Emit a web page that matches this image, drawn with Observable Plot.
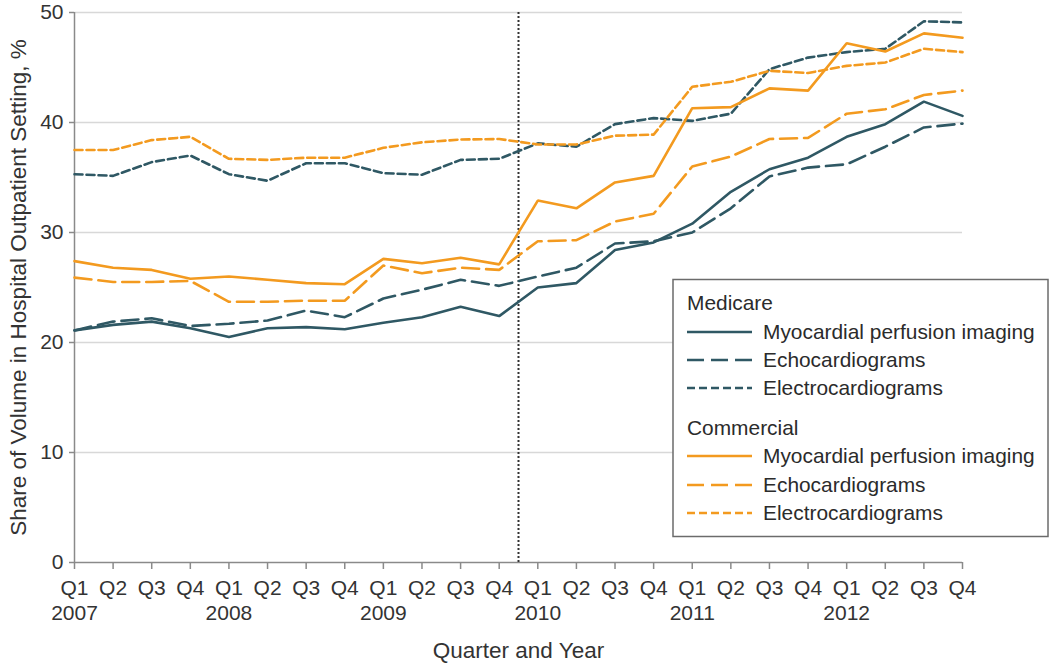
<!DOCTYPE html>
<html><head><meta charset="utf-8">
<script src="https://cdn.jsdelivr.net/npm/d3@7"></script>
<script src="https://cdn.jsdelivr.net/npm/@observablehq/plot@0.6"></script>
<style>
body{margin:0;background:#fff;}
#wrap{position:relative;width:1050px;height:663px;font-family:"Liberation Sans",Arial,sans-serif;}
#legend{position:absolute;left:0;top:0;pointer-events:none;}
</style></head>
<body><div id="wrap"></div>
<script>
const quarterLabels = ["Q1","Q2","Q3","Q4"];
const years = [2007, 2008, 2009, 2010, 2011, 2012];
const medicareMPI  = [21.1,21.6,21.9,21.3,20.5,21.3,21.4,21.2,21.8,22.3,23.25,22.4,25.0,25.4,28.4,29.1,30.8,33.7,35.75,36.8,38.7,39.85,41.9,40.6];
const medicareEcho = [21.1,21.9,22.2,21.5,21.7,22.0,22.9,22.3,24.0,24.8,25.7,25.15,26.0,26.8,29.0,29.2,30.0,32.2,35.1,35.9,36.2,37.8,39.55,39.9];
const medicareECG  = [35.3,35.15,36.4,37.0,35.3,34.7,36.3,36.3,35.4,35.25,36.6,36.7,38.1,37.8,39.85,40.4,40.15,40.8,44.85,45.9,46.4,46.7,49.2,49.1];
const commercialMPI  = [27.4,26.8,26.6,25.8,26.0,25.7,25.4,25.3,27.6,27.2,27.7,27.1,32.9,32.2,34.55,35.15,41.3,41.4,43.1,42.9,47.2,46.45,48.1,47.7];
const commercialEcho = [25.9,25.5,25.5,25.6,23.7,23.7,23.8,23.8,27.0,26.3,26.8,26.6,29.2,29.3,31.0,31.7,36.0,36.9,38.5,38.6,40.8,41.2,42.5,42.9];
const commercialECG  = [37.5,37.5,38.4,38.7,36.7,36.6,36.8,36.8,37.7,38.2,38.45,38.5,38.0,38.0,38.8,38.9,43.25,43.7,44.7,44.5,45.15,45.45,46.7,46.4];
const groupNames = ["Medicare", "Commercial"];
const seriesNames = ["Myocardial perfusion imaging", "Echocardiograms", "Electrocardiograms"];
const policyBreak = 11.5; // between Q4 2009 and Q1 2010

const TEAL = "#2f5864", ORANGE = "#f39a1f";
const dashes = [null, "17,7", "8,4"];
const groups = [
  {name: groupNames[0], color: TEAL, series: [medicareMPI, medicareEcho, medicareECG]},
  {name: groupNames[1], color: ORANGE, series: [commercialMPI, commercialEcho, commercialECG]}
];

const quarterIdx = d3.range(years.length * 4);
const lineMarks = [];
for (const g of groups) {
  g.series.forEach((vals, k) => {
    const data = vals.map((v, i) => ({i, v}));
    lineMarks.push(Plot.line(data, {x: "i", y: "v", stroke: g.color, strokeWidth: 2.6,
      strokeDasharray: dashes[k] ?? undefined, strokeLinejoin: "miter"}));
  });
}

const FONT = '"Liberation Sans", Arial, sans-serif';
const FS_TICK = "21px", FS_TITLE = "22.5px", FS_LEG = "20.9px";
const plot = Plot.plot({
  width: 1050, height: 663,
  marginLeft: 74, marginRight: 88, marginTop: 12, marginBottom: 101,
  style: {fontFamily: FONT, fontSize: FS_TICK, color: "#333", background: "#fff"},
  x: {domain: [0, quarterIdx.length - 1]},
  y: {domain: [0, 50]},
  marks: [
    Plot.gridY([10, 20, 30, 40, 50], {stroke: "#d8d8d8", strokeOpacity: 1, strokeWidth: 1.5}),
    Plot.ruleY([0], {stroke: "#8a8a8a", strokeWidth: 1.5}),
    Plot.ruleX([0], {stroke: "#8a8a8a", strokeWidth: 1.5}),
    Plot.axisY({ticks: [0, 10, 20, 30, 40, 50], tickSize: 5, tickPadding: 6, stroke: "#8a8a8a", strokeWidth: 1.5, label: null, fontSize: FS_TICK, fill: "#333"}),
    Plot.axisX({ticks: quarterIdx, tickSize: 7, tickPadding: 11, stroke: "#8a8a8a", strokeWidth: 1.5,
      tickFormat: i => quarterLabels[i % 4], label: null, fontSize: FS_TICK, fill: "#333"}),
    Plot.axisX({ticks: years.map((y, k) => k * 4), tickSize: 0, tickPadding: 43,
      tickFormat: i => String(years[i / 4]), label: null, fontSize: FS_TICK, fill: "#333"}),
    Plot.ruleX([policyBreak], {stroke: "#333", strokeWidth: 2, strokeDasharray: "2,2"}),
    ...lineMarks,
    Plot.text(["Quarter and Year"], {frameAnchor: "bottom", dy: 88, fontSize: FS_TITLE, fill: "#333", lineAnchor: "middle"}),
    Plot.text(["Share of Volume in Hospital Outpatient Setting, %"], {frameAnchor: "left", dx: -56, rotate: -90, textAnchor: "middle", fontSize: FS_TITLE, fill: "#333", lineAnchor: "middle"})
  ]
});
const wrap = document.getElementById("wrap");
wrap.appendChild(plot);

// legend overlay
const svg = d3.select(wrap).append("svg").attr("id", "legend").attr("width", 1050).attr("height", 663);
svg.append("rect").attr("x", 673).attr("y", 279.5).attr("width", 375).attr("height", 257)
  .attr("fill", "#fff").attr("stroke", "#6b6b6b").attr("stroke-width", 1.5);
const rowsY = [[303, 332, 360, 388], [428, 456, 485, 513]];
groups.forEach((g, gi) => {
  const ys = rowsY[gi];
  svg.append("text").attr("x", 687).attr("y", ys[0]).attr("dy", "0.35em")
    .attr("font-size", FS_LEG).attr("fill", "#2b2b2b").attr("font-family", FONT).text(g.name);
  seriesNames.forEach((s, k) => {
    const y = ys[k + 1];
    svg.append("line").attr("x1", 687).attr("x2", 752).attr("y1", y).attr("y2", y)
      .attr("stroke", g.color).attr("stroke-width", 2.6).attr("stroke-dasharray", dashes[k]);
    svg.append("text").attr("x", 763).attr("y", y).attr("dy", "0.35em")
      .attr("font-size", FS_LEG).attr("fill", "#2b2b2b").attr("font-family", FONT).text(s);
  });
});
</script>
</body></html>
